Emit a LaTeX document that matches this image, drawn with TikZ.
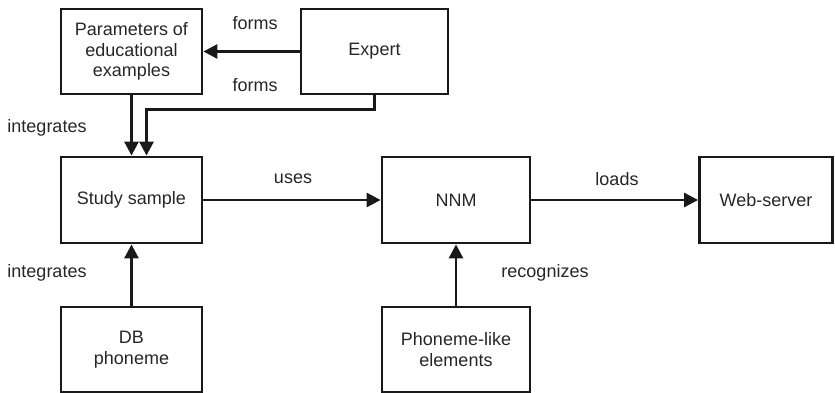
\documentclass[tikz,border=0pt]{standalone}
\usepackage{fontspec}
\setmainfont{Liberation Sans}
\usetikzlibrary{arrows.meta,calc}
\begin{document}
\begin{tikzpicture}[x=1pt,y=-1pt,
  box/.style={draw=black!90,line width=2.8pt,rectangle,inner sep=0pt,align=center,
    font=\fontsize{18}{20.5}\selectfont,text=black!85},
  lbl/.style={font=\fontsize{18}{20.5}\selectfont,text=black!85,inner sep=0pt},
  arr/.style={draw=black!90,line width=2.8pt,-{Triangle[length=14pt,width=14pt]}}]
\useasboundingbox (0,0) rectangle (835,393);
\node[box,minimum width=141pt,minimum height=85pt] (params) at (131.5,51.5) {Parameters of\\educational\\examples};
\node[box,minimum width=147pt,minimum height=85pt] (expert) at (374.5,51.5) {Expert};
\node[box,minimum width=141pt,minimum height=86pt] (study) at (131.5,200) {Study sample};
\node[box,minimum width=148pt,minimum height=86pt] (nnm) at (456,200) {NNM};
\node[box,minimum width=133pt,minimum height=86pt] (web) at (766,200) {Web-server};
\node[box,minimum width=141pt,minimum height=85pt] (db) at (131.5,349.5) {DB\\phoneme};
\node[box,minimum width=148pt,minimum height=85pt] (phon) at (456,349.5) {Phoneme-like\\elements};
\draw[arr] (expert.west) -- (params.east);
\draw[arr] (params.south) -- (study.north);
\draw[arr] (expert.south) -- ++(0,14) -| ($(study.north)+(15,0)$);
\draw[arr] (study.east) -- (nnm.west);
\draw[arr] (nnm.east) -- (web.west);
\draw[arr] (db.north) -- (study.south);
\draw[arr] (phon.north) -- (nnm.south);
\node[lbl] (l1) at (255,23) {forms};
\node[lbl] (l2) at (255,85) {forms};
\node[lbl] (l3) at (47,128) {integrates};
\node[lbl] (l4) at (47,273) {integrates};
\node[lbl] (l5) at (293,179) {uses};
\node[lbl] (l6) at (617,179) {loads};
\node[lbl] (l7) at (545,273) {recognizes};
\end{tikzpicture}
\end{document}
